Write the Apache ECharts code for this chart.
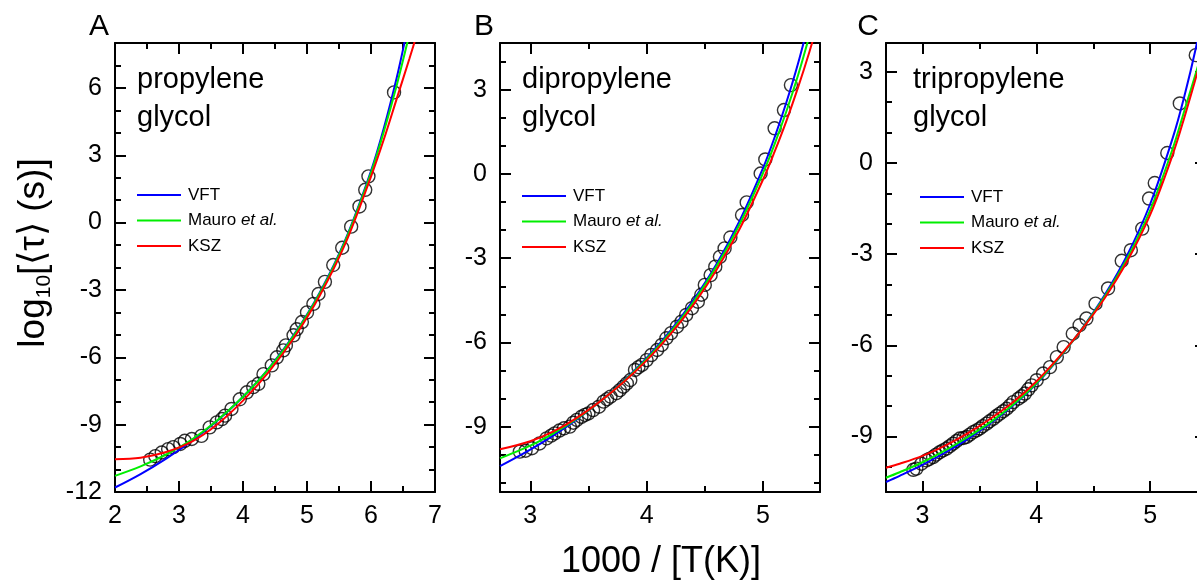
<!DOCTYPE html>
<html><head><meta charset="utf-8">
<script src="https://cdn.jsdelivr.net/npm/echarts@6/dist/echarts.min.js"></script>
<style>html,body{margin:0;padding:0;background:#fff}#c{width:1197px;height:585px}</style>
</head><body><div id="c"></div>
<script>
const FONT = "'Liberation Sans', Arial, Helvetica, sans-serif";

// ---------- data ----------
const panelLetters = ['A', 'B', 'C'];
const panelNames = [['propylene', 'glycol'], ['dipropylene', 'glycol'], ['tripropylene', 'glycol']];
const seriesNames = ['VFT', 'Mauro et al.', 'KSZ'];
const seriesColors = ['#0000ff', '#00ee00', '#ff0000'];

const xRanges = [[2, 7], [2.74, 5.49], [2.68, 5.49]];
const yRanges = [[-12, 8], [-11.33, 4.67], [-10.83, 3.95]];
const xMajorTicks = [[2, 3, 4, 5, 6, 7], [3, 4, 5], [3, 4, 5]];
const xMinorTicks = [[2.5, 3.5, 4.5, 5.5, 6.5], [3.5, 4.5], [3.5, 4.5]];
const yMajorTicks = [[-12, -9, -6, -3, 0, 3, 6], [-9, -6, -3, 0, 3], [-9, -6, -3, 0, 3]];
const yMinorTicks = [[-11, -10, -8, -7, -5, -4, -2, -1, 1, 2, 4, 5, 7],
                     [-11, -10, -8, -7, -5, -4, -2, -1, 1, 2, 4],
                     [-10, -8, -7, -5, -4, -2, -1, 1, 2]];

// measured relaxation times (x = 1000/T, y = log10 tau)
const dataA = [[2.55,-10.56],[2.63,-10.40],[2.73,-10.24],[2.83,-10.09],[2.91,-10.0],[3.02,-9.86],[3.09,-9.72],[3.2,-9.64],[3.35,-9.5],[3.48,-9.12],[3.59,-8.9],[3.67,-8.75],[3.72,-8.6],[3.82,-8.3],[3.95,-7.87],[4.06,-7.56],[4.16,-7.33],[4.24,-7.18],[4.32,-6.75],[4.45,-6.36],[4.53,-6.0],[4.63,-5.69],[4.67,-5.47],[4.79,-5.02],[4.84,-4.75],[4.92,-4.43],[5.0,-4.0],[5.1,-3.62],[5.18,-3.18],[5.28,-2.64],[5.41,-1.89],[5.55,-1.12],[5.69,-0.18],[5.82,0.72],[5.91,1.46],[5.96,2.06],[6.36,5.8]];
const dataB = [[2.91,-9.89],[2.96,-9.86],[3.015,-9.77],[3.08,-9.6],[3.14,-9.42],[3.18,-9.32],[3.21,-9.24],[3.25,-9.14],[3.29,-9.06],[3.34,-9.0],[3.37,-8.86],[3.40,-8.76],[3.44,-8.65],[3.47,-8.58],[3.50,-8.53],[3.54,-8.41],[3.59,-8.29],[3.63,-8.11],[3.66,-8.02],[3.69,-7.93],[3.74,-7.81],[3.77,-7.7],[3.80,-7.58],[3.83,-7.46],[3.86,-7.34],[3.90,-6.98],[3.93,-6.88],[3.96,-6.80],[4.00,-6.63],[4.04,-6.45],[4.09,-6.27],[4.13,-6.09],[4.17,-5.85],[4.21,-5.67],[4.26,-5.44],[4.30,-5.26],[4.34,-5.02],[4.39,-4.78],[4.44,-4.55],[4.47,-4.3],[4.50,-3.95],[4.55,-3.60],[4.59,-3.30],[4.63,-2.95],[4.67,-2.65],[4.72,-2.26],[4.82,-1.46],[4.86,-1.01],[4.98,0.02],[5.02,0.52],[5.10,1.63],[5.18,2.28],[5.24,3.17]];
const dataC = [[2.92,-10.1],[2.947,-10.06],[2.99,-9.9],[3.035,-9.79],[3.06,-9.74],[3.093,-9.68],[3.12,-9.6],[3.152,-9.52],[3.18,-9.46],[3.211,-9.40],[3.24,-9.32],[3.269,-9.24],[3.30,-9.15],[3.328,-9.07],[3.36,-9.05],[3.387,-9.02],[3.415,-8.94],[3.445,-8.86],[3.475,-8.8],[3.504,-8.74],[3.53,-8.66],[3.563,-8.58],[3.59,-8.5],[3.621,-8.42],[3.65,-8.33],[3.680,-8.25],[3.71,-8.17],[3.739,-8.09],[3.77,-7.98],[3.797,-7.87],[3.841,-7.76],[3.87,-7.68],[3.90,-7.59],[3.93,-7.45],[3.959,-7.32],[4.003,-7.15],[4.06,-6.93],[4.12,-6.72],[4.18,-6.39],[4.24,-6.06],[4.32,-5.62],[4.38,-5.34],[4.44,-5.12],[4.52,-4.63],[4.63,-4.13],[4.75,-3.22],[4.83,-2.87],[4.93,-2.16],[4.99,-1.17],[5.04,-0.66],[5.15,0.33],[5.26,1.96],[5.40,3.55]];

// fitted curves
const vftA = [[2.0,-11.80],[2.4,-11.20],[2.8,-10.51],[3.2,-9.73],[3.6,-8.82],[4.0,-7.76],[4.4,-6.50],[4.8,-4.98],[5.2,-3.11],[5.6,-0.76],[6.0,2.30],[6.2,4.20],[6.4,6.43],[6.55,8.38]];
const mauroA = [[2.0,-11.28],[2.4,-10.86],[2.8,-10.33],[3.2,-9.66],[3.6,-8.8],[4.0,-7.76],[4.4,-6.52],[4.8,-5.01],[5.2,-3.15],[5.6,-0.8],[6.0,2.22],[6.2,4.05],[6.4,6.1],[6.6,8.4]];
const kszA = [[2.0,-10.54],[2.4,-10.47],[2.8,-10.22],[3.2,-9.76],[3.6,-8.98],[4.0,-7.93],[4.4,-6.66],[4.8,-5.12],[5.2,-3.25],[5.6,-0.93],[6.0,2.05],[6.2,3.7],[6.4,5.5],[6.6,7.3],[6.75,8.7]];
const vftB = [[2.74,-10.41],[3.0,-9.82],[3.2,-9.31],[3.4,-8.74],[3.6,-8.10],[3.8,-7.38],[4.0,-6.55],[4.2,-5.61],[4.4,-4.50],[4.6,-3.21],[4.8,-1.66],[5.0,0.21],[5.1,1.31],[5.2,2.54],[5.3,3.92],[5.4,5.5]];
const mauroB = [[2.74,-10.13],[3.0,-9.68],[3.2,-9.24],[3.4,-8.72],[3.6,-8.1],[3.8,-7.4],[4.0,-6.59],[4.2,-5.66],[4.4,-4.57],[4.6,-3.29],[4.8,-1.78],[5.0,0.03],[5.1,1.07],[5.2,2.22],[5.3,3.5],[5.4,4.95]];
const kszB = [[2.74,-9.81],[3.0,-9.52],[3.2,-9.17],[3.4,-8.69],[3.6,-8.1],[3.8,-7.42],[4.0,-6.64],[4.2,-5.73],[4.4,-4.67],[4.6,-3.42],[4.8,-1.95],[5.0,-0.2],[5.1,0.8],[5.2,1.88],[5.3,3.07],[5.4,4.37],[5.5,5.8]];
const vftC = [[2.68,-10.50],[2.8,-10.30],[3.0,-9.94],[3.2,-9.53],[3.4,-9.08],[3.6,-8.56],[3.8,-7.97],[4.0,-7.27],[4.2,-6.42],[4.4,-5.46],[4.6,-4.35],[4.8,-3.02],[5.0,-1.35],[5.2,0.85],[5.3,2.2],[5.4,3.77],[5.5,5.63]];
const mauroC = [[2.68,-10.36],[2.8,-10.18],[3.0,-9.85],[3.2,-9.46],[3.4,-9.02],[3.6,-8.52],[3.8,-7.94],[4.0,-7.25],[4.2,-6.41],[4.4,-5.47],[4.6,-4.4],[4.8,-3.13],[5.0,-1.55],[5.2,0.5],[5.3,1.72],[5.42,3.2],[5.5,4.3]];
const kszC = [[2.68,-10.03],[2.8,-9.9],[3.0,-9.64],[3.2,-9.3],[3.4,-8.89],[3.6,-8.41],[3.8,-7.86],[4.0,-7.19],[4.2,-6.38],[4.4,-5.48],[4.6,-4.45],[4.8,-3.22],[5.0,-1.7],[5.2,0.3],[5.3,1.5],[5.42,3.05],[5.5,4.1]];

const measured = [dataA, dataB, dataC];
const fits = [[vftA, mauroA, kszA], [vftB, mauroB, kszB], [vftC, mauroC, kszC]];

// ---------- layout ----------
const grids = [
  {left: 115, top: 43, width: 320, height: 449},
  {left: 500, top: 43, width: 320, height: 449},
  {left: 886, top: 43, width: 320, height: 449}
];
const legendPos = [[137, 185], [522, 186], [920, 187]];
const namePos = [[137, 80, 118], [522, 80, 118], [913, 80, 118]];
const letterPos = [[99, 27], [484, 27], [868, 27]];

const AX = {color: '#000', width: 2};

function makeAxis(dim, p, position, major, withLabel) {
  const r = dim === 'x' ? xRanges[p] : yRanges[p];
  const ticks = major ? (dim === 'x' ? xMajorTicks[p] : yMajorTicks[p])
                      : (dim === 'x' ? xMinorTicks[p] : yMinorTicks[p]);
  return {
    type: 'value', gridIndex: p, position: position, min: r[0], max: r[1],
    splitLine: {show: false},
    axisLine: {show: major, onZero: false, lineStyle: AX},
    axisTick: {show: true, inside: true, length: major ? 11 : 6, lineStyle: AX, customValues: ticks},
    axisLabel: withLabel ? {show: true, customValues: ticks, color: '#000', fontSize: 25,
                            fontFamily: FONT, margin: dim === 'x' ? 12 : 13}
                         : {show: false},
    axisPointer: {show: false}
  };
}

const xAxis = [], yAxis = [];
for (let p = 0; p < 3; p++) {
  xAxis.push(makeAxis('x', p, 'bottom', true, true));
  xAxis.push(makeAxis('x', p, 'bottom', false, false));
  xAxis.push(makeAxis('x', p, 'top', true, false));
  xAxis.push(makeAxis('x', p, 'top', false, false));
  yAxis.push(makeAxis('y', p, 'left', true, true));
  yAxis.push(makeAxis('y', p, 'left', false, false));
  yAxis.push(makeAxis('y', p, 'right', true, false));
  yAxis.push(makeAxis('y', p, 'right', false, false));
}

const series = [];
for (let p = 0; p < 3; p++) {
  series.push({
    type: 'scatter', name: 'data' + p, xAxisIndex: p * 4, yAxisIndex: p * 4,
    data: measured[p], symbol: 'circle', symbolSize: 13,
    itemStyle: {color: 'rgba(0,0,0,0)', borderColor: '#000', borderWidth: 1.4},
    silent: true, z: 2
  });
  for (let s = 0; s < 3; s++) {
    series.push({
      type: 'line', name: seriesNames[s], xAxisIndex: p * 4, yAxisIndex: p * 4,
      data: fits[p][s], smooth: 0.35, showSymbol: false, symbol: 'none',
      lineStyle: {color: seriesColors[s], width: 2}, itemStyle: {color: seriesColors[s]},
      clip: true, silent: true, z: 3
    });
  }
}

const legend = [0, 1, 2].map(p => ({
  orient: 'vertical', left: legendPos[p][0], top: legendPos[p][1], padding: 0,
  itemWidth: 44, itemHeight: 2, itemGap: 5.5, icon: 'rect', selectedMode: false,
  data: seriesNames,
  textStyle: {fontSize: 17, fontFamily: FONT, color: '#000', lineHeight: 20, padding: [0, 0, 0, 2],
              rich: {it: {fontStyle: 'italic', fontSize: 17, fontFamily: FONT, color: '#000'}}},
  formatter: n => n === 'Mauro et al.' ? 'Mauro {it|et al.}' : n
}));

const graphic = [];
for (let p = 0; p < 3; p++) {
  graphic.push({type: 'text', x: letterPos[p][0], y: letterPos[p][1], silent: true,
    style: {text: panelLetters[p], fontSize: 30, fontFamily: FONT, fill: '#000', align: 'center', verticalAlign: 'middle'}});
  graphic.push({type: 'text', x: namePos[p][0], y: namePos[p][1], silent: true,
    style: {text: panelNames[p][0], fontSize: 29, fontFamily: FONT, fill: '#000', align: 'left', verticalAlign: 'middle'}});
  graphic.push({type: 'text', x: namePos[p][0], y: namePos[p][2], silent: true,
    style: {text: panelNames[p][1], fontSize: 29, fontFamily: FONT, fill: '#000', align: 'left', verticalAlign: 'middle'}});
}
graphic.push({type: 'text', x: 661, y: 562, silent: true,
  style: {text: '1000 / [T(K)]', fontSize: 36, fontFamily: FONT, fill: '#000', align: 'center', verticalAlign: 'middle'}});
graphic.push({type: 'text', x: 34, y: 253, rotation: Math.PI / 2, silent: true,
  style: {text: '{a|log}{b|10}{a|[⟨τ⟩ (s)]}', align: 'center', verticalAlign: 'middle', fill: '#000',
    rich: {a: {fontSize: 37, fontFamily: FONT, lineHeight: 42, verticalAlign: 'middle', fill: '#000'},
           b: {fontSize: 21, fontFamily: FONT, lineHeight: 14, verticalAlign: 'bottom', fill: '#000'}}}});

const chart = echarts.init(document.getElementById('c'), null, {renderer: 'canvas'});
chart.setOption({
  animation: false,
  backgroundColor: '#fff',
  grid: grids.map(g => Object.assign({containLabel: false, outerBoundsMode: 'none'}, g)),
  xAxis: xAxis, yAxis: yAxis, series: series, legend: legend, graphic: graphic,
  tooltip: {show: false}
});
</script></body></html>
